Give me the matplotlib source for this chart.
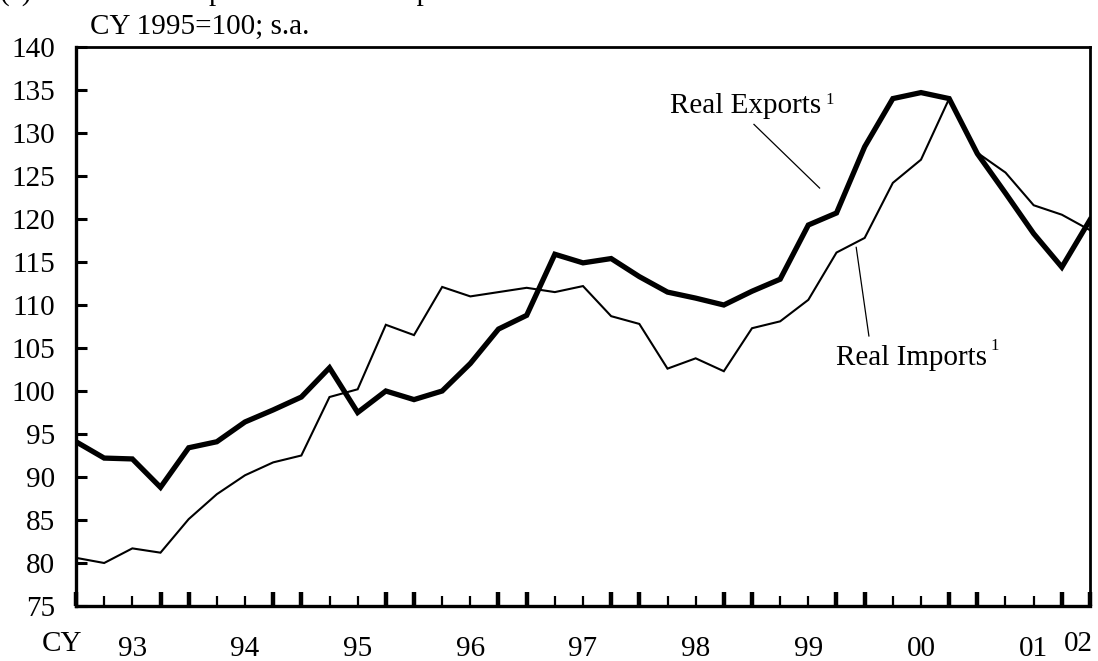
import matplotlib
matplotlib.use("Agg")
import matplotlib.pyplot as plt
import numpy as np

plt.rcParams['font.family'] = ['Liberation Serif', 'DejaVu Serif']

# ---- data (quarterly, 1993 .. 2002Q1), index CY 1995 = 100, s.a.
quarters = list(range(37))
real_exports = [94.1, 92.2, 92.1, 88.8, 93.4, 94.1, 96.4, 97.8, 99.3, 102.7,
                97.5, 100.0, 99.0, 100.0, 103.2, 107.2, 108.8, 115.9, 114.9, 115.4,
                113.3, 111.5, 110.8, 110.0, 111.6, 113.0, 119.3, 120.7, 128.4, 134.0,
                134.7, 134.0, 127.6, 123.0, 118.3, 114.4, 119.9]
real_imports = [80.6, 80.0, 81.7, 81.2, 85.1, 88.0, 90.2, 91.7, 92.5, 99.3,
                100.2, 107.7, 106.5, 112.1, 111.0, 111.5, 112.0, 111.5, 112.2, 108.7,
                107.8, 102.6, 103.8, 102.3, 107.3, 108.1, 110.6, 116.1, 117.8, 124.2,
                126.9, 134.0, 127.7, 125.4, 121.6, 120.5, 118.7]
year_labels = ["93", "94", "95", "96", "97", "98", "99", "00", "01"]
last_label = "02"
y_ticks = list(range(75, 141, 5))

FS = 21

fig = plt.figure(figsize=(10.98, 6.61), dpi=100)
ax = fig.add_axes([76/1098, 55/661, (1090-76)/1098, (606-47)/661])

ax.plot(quarters, real_imports, color='black', lw=1.5, solid_joinstyle='miter', zorder=3)
ax.plot(quarters, real_exports, color='black', lw=3.8, solid_joinstyle='miter', zorder=4)

ax.set_xlim(0, 36)
ax.set_ylim(75, 140)

for s in ax.spines.values():
    s.set_linewidth(2.0)
ax.spines['left'].set_linewidth(2.4)
ax.spines['bottom'].set_linewidth(2.4)

ax.set_yticks(y_ticks)
ax.set_yticklabels([str(v) for v in y_ticks], fontsize=FS)
ax.tick_params(axis='y', direction='in', length=8, width=2.2, pad=15, left=True, right=False)

n = len(quarters)
major = [i for i in range(n) if i == 0 or i % 4 in (3, 0)]
minor = [i for i in range(n) if i not in major]
ax.set_xticks(major)
ax.set_xticks(minor, minor=True)
ax.set_xticklabels([''] * len(major))
ax.tick_params(axis='x', which='major', direction='in', length=10, width=3.2, top=False)
ax.tick_params(axis='x', which='minor', direction='in', length=7, width=1.6, top=False)

tr = ax.get_xaxis_transform()
for i, lab in enumerate(year_labels):
    ax.text(2 + 4 * i, -0.077, lab, transform=tr, ha='center', va='center', fontsize=FS)
ax.text(35.6, -0.068, last_label, transform=tr, ha='center', va='center', fontsize=FS)
ax.text(-0.5, -0.068, "CY", transform=tr, ha='center', va='center', fontsize=FS)

# subtitle
fig.text(90/1098, 1 - 27/661, "CY 1995=100; s.a.", ha='left', va='center', fontsize=FS)
# chart title, cut off at the top edge as in the original (only descenders show)
fig.text(0.0, 1 + 0.5/661, "(c)", ha='left', va='baseline', fontsize=FS)
fig.text(116/1098, 1 + 0.5/661, "Real Exports and Real Imports", ha='left', va='baseline', fontsize=FS)

# annotations
ax.text(21.1, 132.3, "Real Exports", ha='left', va='baseline', fontsize=FS)
ax.text(26.6, 133.4, "1", ha='left', va='baseline', fontsize=12)
ax.plot([24.07, 26.4], [131.0, 123.6], color='black', lw=0.9)

ax.text(26.98, 103.0, "Real Imports", ha='left', va='baseline', fontsize=FS)
ax.text(32.45, 104.8, "1", ha='left', va='baseline', fontsize=12)
ax.plot([27.7, 28.15], [116.7, 106.4], color='black', lw=0.9)

fig.savefig("out.png", dpi=100)
